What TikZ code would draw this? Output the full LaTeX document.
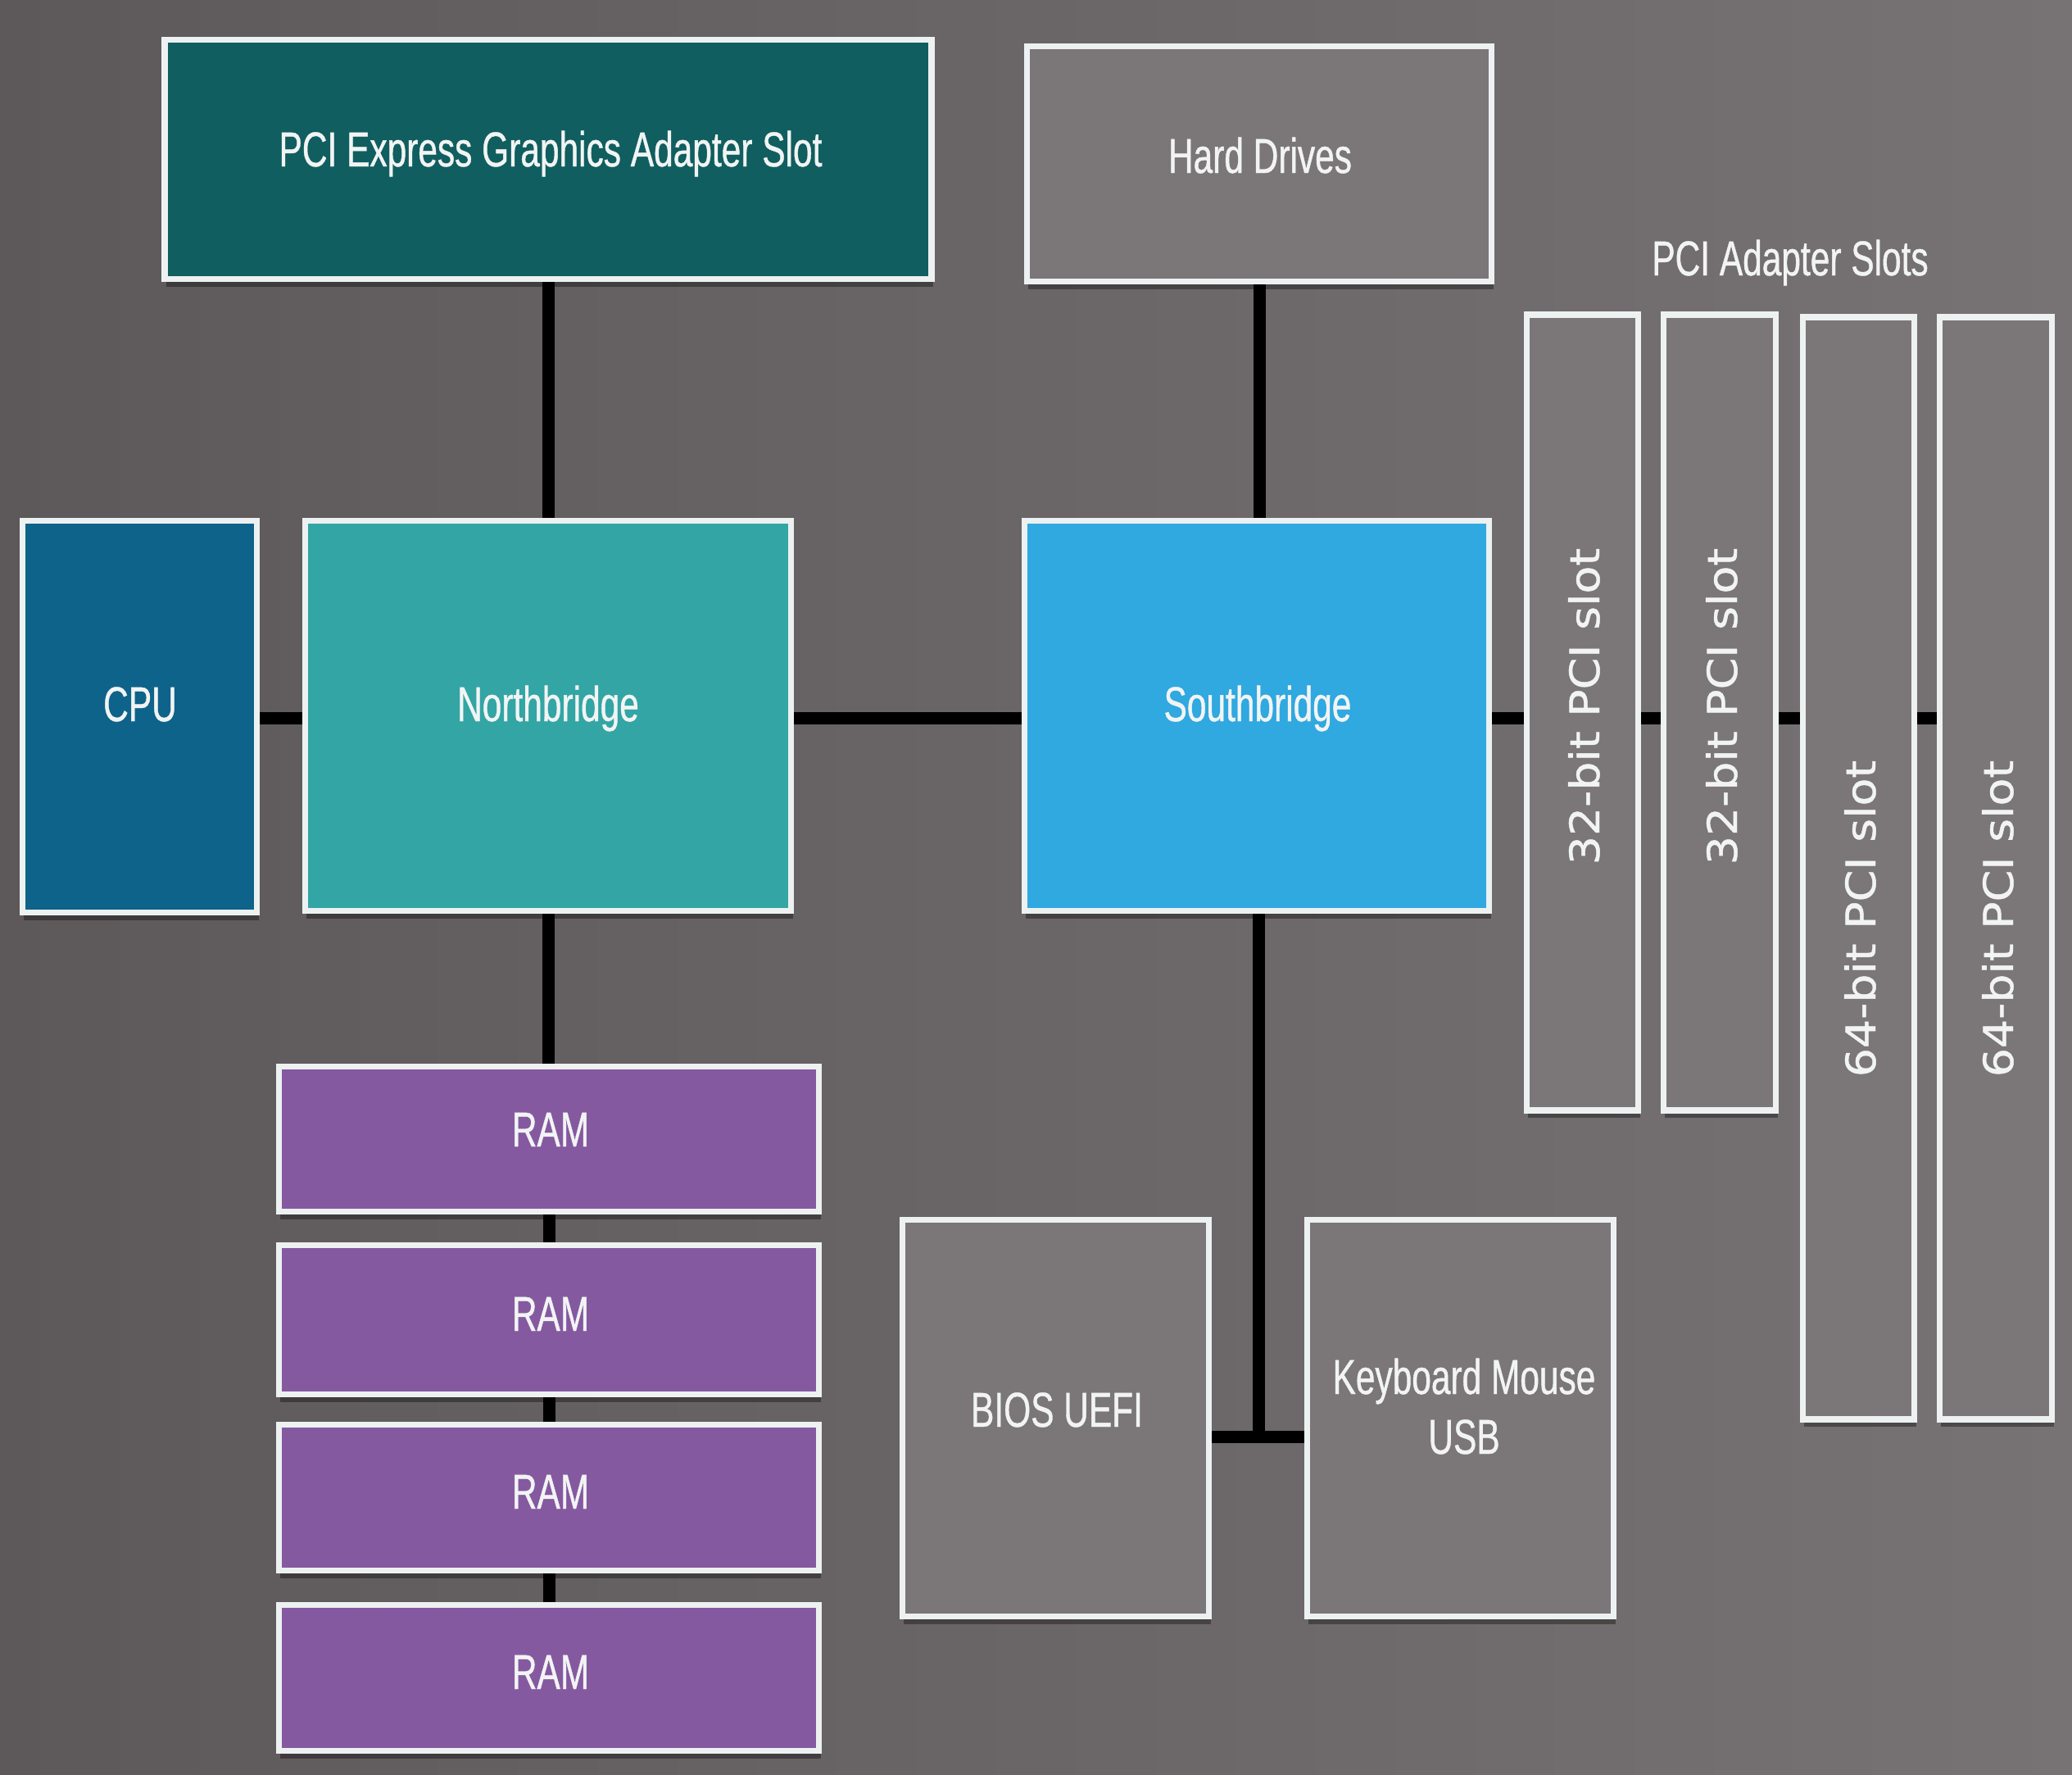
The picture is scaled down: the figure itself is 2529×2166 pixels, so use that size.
\documentclass[tikz,border=0pt]{standalone}
\usepackage{fontspec}
\setmainfont{Liberation Sans}
\newfontfamily\condfont[FakeStretch=0.71,FakeBold=0.7]{Liberation Sans}
\newfontfamily\slotfont[FakeStretch=1.11,FakeBold=0.9]{DejaVu Sans}
\usetikzlibrary{shadows}
\definecolor{bgL}{HTML}{5D585A}
\definecolor{bgR}{HTML}{777273}
\definecolor{pciec}{HTML}{105E60}
\definecolor{cpuc}{HTML}{0E638A}
\definecolor{nbc}{HTML}{33A5A5}
\definecolor{sbc}{HTML}{30A8E0}
\definecolor{ramc}{HTML}{8559A0}
\definecolor{greyc}{HTML}{7B7678}
\definecolor{rimc}{HTML}{EDF1F1}
\definecolor{txtc}{HTML}{F2F4F4}
\tikzset{
  box/.style={rectangle, draw=rimc, line width=0.075cm, inner sep=0pt,
    drop shadow={shadow xshift=0.02cm, shadow yshift=-0.09cm, opacity=0.35, fill=black}},
  txt/.style={text=txtc, font=\condfont\fontsize{17}{20}\selectfont, inner sep=0pt, anchor=base},
  slotlab/.style={text=txtc, font=\slotfont\fontsize{14.2}{17}\selectfont, inner sep=0pt, anchor=base, rotate=90},
  bus/.style={line width=0.15cm, black}
}
\begin{document}
\begin{tikzpicture}[x=0.01cm, y=-0.01cm]
\useasboundingbox (0,0) rectangle (2529,2166);
\shade[left color=bgL, right color=bgR] (0,0) rectangle (2529,2166);

% boxes
\node[box, fill=pciec, minimum width=9.35cm, minimum height=2.92cm] (pcie) at (669,194.5) {};
\node[box, fill=greyc, minimum width=5.67cm, minimum height=2.87cm] (hd) at (1537,200) {};
\node[box, fill=cpuc, minimum width=2.86cm, minimum height=4.78cm] (cpu) at (170.5,874.5) {};
\node[box, fill=nbc, minimum width=5.93cm, minimum height=4.76cm] (nb) at (669,873.5) {};
\node[box, fill=sbc, minimum width=5.67cm, minimum height=4.76cm] (sb) at (1534,873.5) {};
\node[box, fill=greyc, minimum width=1.36cm, minimum height=9.70cm] (s1) at (1931.5,869.5) {};
\node[box, fill=greyc, minimum width=1.37cm, minimum height=9.70cm] (s2) at (2099,869.5) {};
\node[box, fill=greyc, minimum width=1.36cm, minimum height=13.44cm] (s3) at (2268.5,1059.5) {};
\node[box, fill=greyc, minimum width=1.37cm, minimum height=13.44cm] (s4) at (2436,1059.5) {};
\node[box, fill=ramc, minimum width=6.59cm, minimum height=1.77cm] (r1) at (670,1390) {};
\node[box, fill=ramc, minimum width=6.59cm, minimum height=1.82cm] (r2) at (670,1610.5) {};
\node[box, fill=ramc, minimum width=6.59cm, minimum height=1.78cm] (r3) at (670,1827.5) {};
\node[box, fill=ramc, minimum width=6.59cm, minimum height=1.78cm] (r4) at (670,2047.5) {};
\node[box, fill=greyc, minimum width=3.74cm, minimum height=4.84cm] (bios) at (1288.5,1730.5) {};
\node[box, fill=greyc, minimum width=3.74cm, minimum height=4.84cm] (kb) at (1782.5,1730.5) {};

% connectors
\coordinate (jn) at (1536,1753);
\draw[bus] (pcie.south) -- (pcie.south |- nb.north);
\draw[bus] (hd.south) -- (hd.south |- sb.north);
\draw[bus] (cpu.east |- 0,876) -- (nb.west |- 0,876);
\draw[bus] (nb.east |- 0,876) -- (sb.west |- 0,876);
\draw[bus] (sb.east |- 0,876) -- (s1.west |- 0,876);
\draw[bus] (s1.east |- 0,876) -- (s2.west |- 0,876);
\draw[bus] (s2.east |- 0,876) -- (s3.west |- 0,876);
\draw[bus] (s3.east |- 0,876) -- (s4.west |- 0,876);
\draw[bus] (nb.south) -- (nb.south |- r1.north);
\draw[bus] (r1.south) -- (r1.south |- r2.north);
\draw[bus] (r2.south) -- (r2.south |- r3.north);
\draw[bus] (r3.south) -- (r3.south |- r4.north);
\draw[bus] (sb.south -| jn) -- (jn);
\draw[bus] (bios.east |- jn) -- (kb.west |- jn);

% texts
\node[txt] (tpcie) at (672,203) {PCI Express Graphics Adapter Slot};
\node[txt] (thd) at (1538,211) {Hard Drives};
\node[txt] (tcpu) at (171,880) {CPU};
\node[txt] (tnb) at (669,880) {Northbridge};
\node[txt] (tsb) at (1535,880) {Southbridge};
\node[txt] (tr1) at (672,1399) {RAM};
\node[txt] (tr2) at (672,1624) {RAM};
\node[txt] (tr3) at (672,1841) {RAM};
\node[txt] (tr4) at (672,2061) {RAM};
\node[txt] (tbios) at (1290,1741) {BIOS UEFI};
\node[txt] (tkb1) at (1787,1701) {Keyboard Mouse};
\node[txt] (tkb2) at (1787,1774) {USB};
\node[txt] (tslots) at (2185,336) {PCI Adapter Slots};
\node[slotlab] (ts1) at (1952,862) {32-bit PCI slot};
\node[slotlab] (ts2) at (2120,862) {32-bit PCI slot};
\node[slotlab] (ts3) at (2289,1121) {64-bit PCI slot};
\node[slotlab] (ts4) at (2457,1121) {64-bit PCI slot};
\end{tikzpicture}
\end{document}
